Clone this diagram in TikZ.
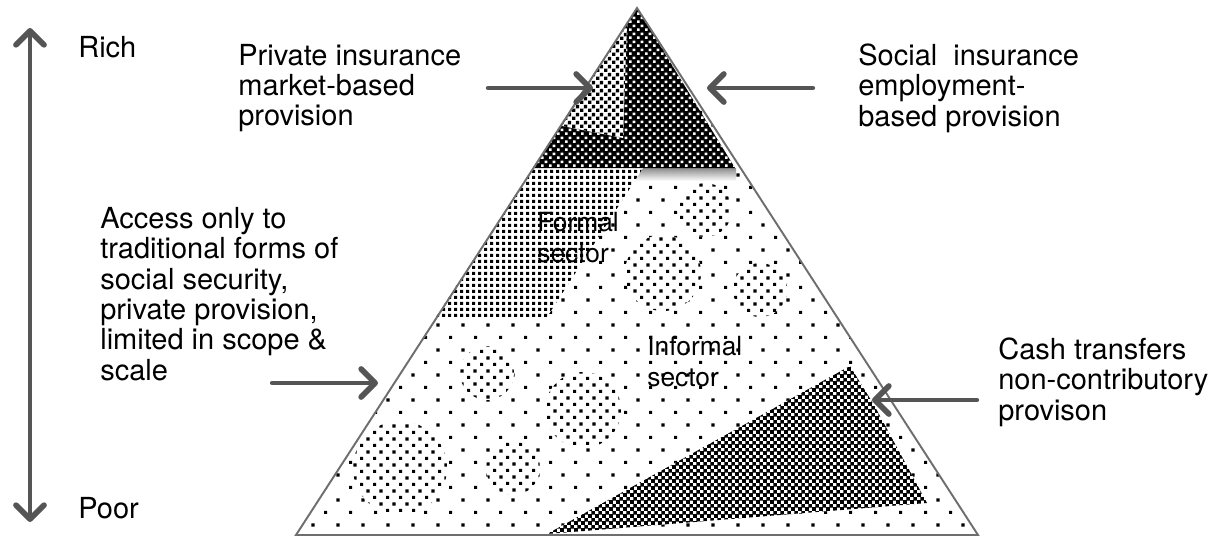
\documentclass[tikz,border=0pt]{standalone}
\usepackage{fontspec}
\setmainfont{TeX Gyre Heros}
\usetikzlibrary{arrows.meta,patterns,positioning}

% dot screens for the pyramid
\pgfdeclarepatternformonly{sparsedots}{\pgfqpoint{0pt}{0pt}}{\pgfqpoint{14.2pt}{14.2pt}}{\pgfqpoint{14.2pt}{14.2pt}}{%
  \pgfpathrectangle{\pgfqpoint{0pt}{0pt}}{\pgfqpoint{1.75pt}{1.75pt}}%
  \pgfpathrectangle{\pgfqpoint{7.1pt}{7.1pt}}{\pgfqpoint{1.75pt}{1.75pt}}%
  \pgfusepath{fill}}
\pgfdeclarepatternformonly{densedots}{\pgfqpoint{0pt}{0pt}}{\pgfqpoint{3.6pt}{3.6pt}}{\pgfqpoint{3.6pt}{3.6pt}}{%
  \pgfpathrectangle{\pgfqpoint{0pt}{0pt}}{\pgfqpoint{1.95pt}{1.95pt}}%
  \pgfusepath{fill}}
\pgfdeclarepatternformonly{blobdots}{\pgfqpoint{0pt}{0pt}}{\pgfqpoint{7.6pt}{7.6pt}}{\pgfqpoint{7.6pt}{7.6pt}}{%
  \pgfpathrectangle{\pgfqpoint{0pt}{0pt}}{\pgfqpoint{1.9pt}{1.9pt}}%
  \pgfpathrectangle{\pgfqpoint{3.8pt}{3.8pt}}{\pgfqpoint{1.9pt}{1.9pt}}%
  \pgfusepath{fill}}
\pgfdeclarepatternformonly{checkpat}{\pgfqpoint{0pt}{0pt}}{\pgfqpoint{4.4pt}{4.4pt}}{\pgfqpoint{4.4pt}{4.4pt}}{%
  \pgfpathrectangle{\pgfqpoint{0pt}{0pt}}{\pgfqpoint{2pt}{2pt}}%
  \pgfpathrectangle{\pgfqpoint{2.2pt}{2.2pt}}{\pgfqpoint{2pt}{2pt}}%
  \pgfusepath{fill}}
\pgfdeclarepatternformonly{holepat}{\pgfqpoint{0pt}{0pt}}{\pgfqpoint{4.4pt}{4.4pt}}{\pgfqpoint{4.4pt}{4.4pt}}{%
  \pgfpathrectangle{\pgfqpoint{0pt}{0pt}}{\pgfqpoint{1.5pt}{1.5pt}}%
  \pgfpathrectangle{\pgfqpoint{2.2pt}{2.2pt}}{\pgfqpoint{1.5pt}{1.5pt}}%
  \pgfusepath{fill}}
\pgfdeclarepatternformonly{cashpat}{\pgfqpoint{0pt}{0pt}}{\pgfqpoint{4.2pt}{4.2pt}}{\pgfqpoint{4.2pt}{4.2pt}}{%
  \pgfpathrectangle{\pgfqpoint{0pt}{0pt}}{\pgfqpoint{2.4pt}{2.4pt}}%
  \pgfpathrectangle{\pgfqpoint{2.1pt}{2.1pt}}{\pgfqpoint{2.4pt}{2.4pt}}%
  \pgfusepath{fill}}

\definecolor{arrowgray}{HTML}{555555}
\definecolor{edgegray}{HTML}{6E6E6E}

\tikzset{
>={Straight Barb[length=8pt,width=16pt,line width=3.2pt,round]},
  lbl/.style={
    anchor=west,
    align=left,
    inner sep=0pt,
    font=\fontsize{16.5}{17.3}\selectfont},
  seclbl/.style={lbl, font=\fontsize{15}{17.6}\selectfont},
  pointer/.style={draw=arrowgray, line width=2.4pt, line cap=round, ->},
  patch/.style={fill=white, postaction={pattern=#1}},
  darkpatch/.style={fill=black, postaction={pattern=holepat, pattern color=white}},
  edge/.style={draw=edgegray, line width=1.1pt, line join=miter},
}

\begin{document}
\begin{tikzpicture}[x=0.02cm, y=-0.02cm]
  \useasboundingbox (0,0) rectangle (1226,538);
  % corners of the pyramid
  \coordinate (apex) at (637,8);
  \coordinate (baseleft) at (296,535);
  \coordinate (baseright) at (978,535);
  %% whole population: sparse dots
  \fill[pattern=sparsedots] (apex) -- (baseleft) -- (baseright) -- cycle;
  %% soft shadow under the insurance cap
  \shade[top color=black!45, bottom color=white] (600,168) rectangle (736,181);
  %% formal sector band
  \path[patch=densedots] (533,168) -- (643,168) -- (547,317) -- (436,317) -- cycle;
  %% patches of traditional provision
  \foreach \cx/\cy/\r in {705/210/27, 663/273/38, 760/290/27,
      487/373/27, 583/410/38, 400/468/47, 513/468/27}
    \path[patch=blobdots] (\cx,\cy) circle[radius=\r];
  %% cash transfers wedge
  \path[patch=cashpat] (547,534) -- (850,366) -- (874,405) -- (927,503) -- cycle;
  %% insurance cap, private part lighter
  \path[darkpatch] (apex) -- (533,168) -- (735,168) -- cycle;
  \path[patch=checkpat] (627,24) -- (623,138) -- (562,126) -- cycle;
  \draw[edge] (apex) -- (baseleft) -- (baseright) -- cycle;

  % labels
  \node[lbl] (rich) at (78,47) {Rich};
  \node[lbl] (poor) at (78,508) {Poor};
  \node[lbl] (privins) at (238,88) {Private insurance\\market-based\\provision};
  \node[lbl] (socins) at (858,88) {Social\ \ insurance\\employment-\\based provision};
  \node[lbl] (access) at (100,294) {Access only to\\traditional forms of\\social security,\\private provision,\\limited in scope \&\\scale};
  \node[lbl] (cash) at (998,382) {Cash transfers\\non-contributory\\provison};
  \node[seclbl] (formal) at (537,238) {Formal\\sector};
  \node[seclbl] (informal) at (647,362) {Informal\\sector};

  % arrows
  \coordinate (richend) at (30,28);
  \coordinate (poorend) at (30,522);
  \coordinate (privtail) at (488,88);
  \coordinate (privtip) at (593,88);
  \coordinate (soctail) at (813,88);
  \coordinate (soctip) at (707,88);
  \coordinate (accesstail) at (272,383);
  \coordinate (accesstip) at (378,383);
  \coordinate (cashtail) at (977,400);
  \coordinate (cashtip) at (872,400);
  \draw[pointer, <->] (richend) -- (poorend);
  \draw[pointer] (privtail) -- (privtip);
  \draw[pointer] (soctail) -- (soctip);
  \draw[pointer] (accesstail) -- (accesstip);
  \draw[pointer] (cashtail) -- (cashtip);
\end{tikzpicture}
\end{document}
